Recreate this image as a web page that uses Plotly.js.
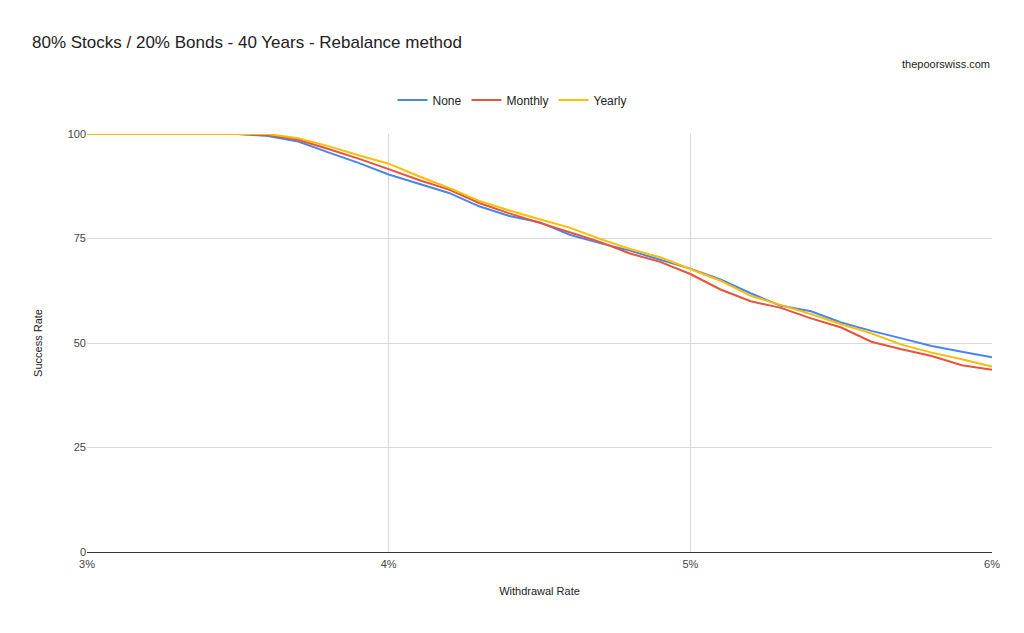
<!DOCTYPE html>
<html>
<head>
<meta charset="utf-8">
<script src="https://cdn.plot.ly/plotly-3.0.1.min.js"></script>
<style>
  html, body { margin: 0; padding: 0; background: #fff; }
  #chart { width: 1024px; height: 633px; }
</style>
</head>
<body>
<div id="chart"></div>
<script>
'use strict';

const rates = [3.0, 3.1, 3.2, 3.3, 3.4, 3.5, 3.6, 3.7, 3.8, 3.9,
               4.0, 4.1, 4.2, 4.3, 4.4, 4.5, 4.6, 4.7, 4.8, 4.9,
               5.0, 5.1, 5.2, 5.3, 5.4, 5.5, 5.6, 5.7, 5.8, 5.9, 6.0];

const noneRate = [100, 100, 100, 100, 100, 100, 99.5, 98.2, 95.6, 93.1,
                  90.3, 88.1, 85.9, 82.7, 80.4, 78.9, 75.9, 73.9, 72.1, 69.9,
                  67.8, 65.2, 61.9, 58.9, 57.6, 54.9, 52.9, 51.1, 49.3, 47.9, 46.6];

const monthlyRate = [100, 100, 100, 100, 100, 100, 99.8, 98.6, 96.4, 94.1,
                     91.6, 89.0, 86.7, 83.5, 81.0, 78.8, 76.5, 74.2, 71.4, 69.4,
                     66.5, 62.8, 60.0, 58.4, 55.9, 53.7, 50.3, 48.5, 46.9, 44.7, 43.6];

const yearlyRate = [100, 100, 100, 100, 100, 100, 100, 99.0, 97.1, 94.9,
                    92.9, 89.9, 87.1, 84.0, 81.7, 79.6, 77.6, 74.9, 72.5, 70.5,
                    67.7, 64.9, 61.3, 59.1, 56.9, 54.5, 52.3, 49.6, 47.7, 46.1, 44.4];

const xTicks = [3, 4, 5, 6];
const xTickText = ['3%', '4%', '5%', '6%'];
const yTicks = [0, 25, 50, 75, 100];

const FONT = 'Liberation Sans, Arial, sans-serif';

const traces = [
  { x: rates, y: noneRate,    name: 'None',    mode: 'lines', line: { color: '#4a86e8', width: 2 } },
  { x: rates, y: monthlyRate, name: 'Monthly', mode: 'lines', line: { color: '#e8533b', width: 2 } },
  { x: rates, y: yearlyRate,  name: 'Yearly',  mode: 'lines', line: { color: '#fbbc04', width: 2 } }
];

const layout = {
  width: 1024,
  height: 633,
  paper_bgcolor: '#fff',
  plot_bgcolor: '#fff',
  font: { family: FONT, color: '#222', size: 11 },
  margin: { t: 134, b: 81, l: 87, r: 32, autoexpand: false },
  title: {
    text: '80% Stocks / 20% Bonds - 40 Years - Rebalance method',
    x: 32 / 1024, xref: 'container', xanchor: 'left',
    y: 1 - 42 / 633, yref: 'container', yanchor: 'middle',
    font: { family: FONT, size: 17, color: '#222' }
  },
  showlegend: true,
  legend: {
    orientation: 'h',
    x: (512 - 87) / 905, xanchor: 'center',
    y: 1 + 34 / 418, yanchor: 'middle',
    font: { family: FONT, size: 12, color: '#222' },
    itemwidth: 30,
    tracegroupgap: 0
  },
  xaxis: {
    range: [3, 6],
    tickvals: xTicks,
    ticktext: xTickText,
    showgrid: true, gridcolor: '#d9d9d9', gridwidth: 1,
    zeroline: false,
    showline: false,
    ticks: '', ticklen: 0,
    ticklabelstandoff: 4,
    tickfont: { family: FONT, size: 11, color: '#444' },
    title: { text: 'Withdrawal Rate', font: { family: FONT, size: 11, color: '#222' }, standoff: 18 }
  },
  yaxis: {
    range: [0, 100],
    tickvals: yTicks,
    showgrid: true, gridcolor: '#d9d9d9', gridwidth: 1,
    zeroline: true, zerolinecolor: '#333', zerolinewidth: 1,
    showline: false,
    ticks: '', ticklen: 0,
    tickfont: { family: FONT, size: 11, color: '#444' },
    title: { text: 'Success Rate', font: { family: FONT, size: 11, color: '#222' }, standoff: 22 }
  },
  annotations: [
    {
      text: 'thepoorswiss.com',
      xref: 'paper', yref: 'paper',
      x: 1, xanchor: 'right',
      y: 1 + (134 - 64) / 418, yanchor: 'middle',
      showarrow: false,
      font: { family: FONT, size: 11, color: '#222' }
    }
  ]
};

Plotly.newPlot('chart', traces, layout, { displayModeBar: false, staticPlot: true });
</script>
</body>
</html>
